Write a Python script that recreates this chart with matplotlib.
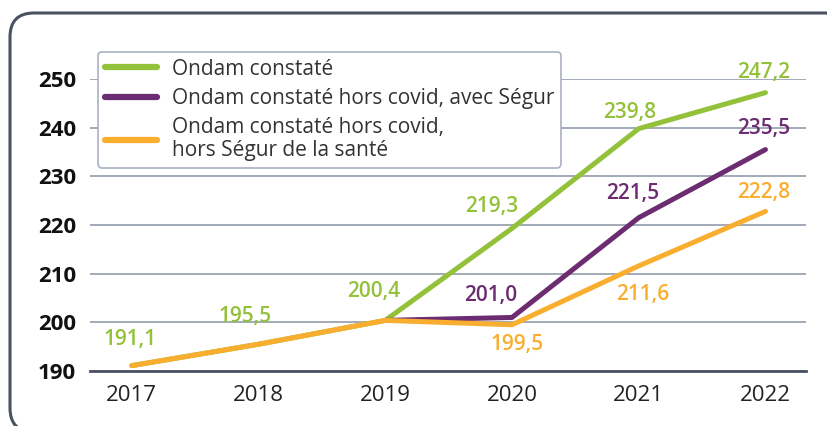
import matplotlib
matplotlib.use("Agg")
import matplotlib.pyplot as plt
import matplotlib.transforms as mtransforms
from matplotlib.patches import FancyBboxPatch

plt.rcParams['font.family'] = ['Open Sans', 'DejaVu Sans']

# data
years = [2017, 2018, 2019, 2020, 2021, 2022]
ondam = [191.1, 195.5, 200.4, 219.3, 239.8, 247.2]
years_segur = [2019, 2020, 2021, 2022]
ondam_hors_covid = [200.4, 201.0, 221.5, 235.5]
ondam_hors_segur = [191.1, 195.5, 200.4, 199.5, 211.6, 222.8]
yticks = [190, 200, 210, 220, 230, 240, 250]
labels = ["Ondam constaté",
          "Ondam constaté hors covid, avec Ségur",
          "Ondam constaté hors covid,\nhors Ségur de la santé"]

green = '#93c13a'
purple = '#6c2c72'
orange = '#f9ae2f'

fig = plt.figure(figsize=(8.28, 4.26), dpi=100)
ax = fig.add_axes([90/828, 1-371/426, (806-90)/828, (371-79)/426])

lw = 3.6
ax.plot(years, ondam, color=green, lw=lw, solid_capstyle='round', solid_joinstyle='round', label=labels[0], zorder=3)
ax.plot(years_segur, ondam_hors_covid, color=purple, lw=lw, solid_capstyle='round', solid_joinstyle='round', label=labels[1], zorder=4)
ax.plot(years, ondam_hors_segur, color=orange, lw=lw, solid_capstyle='round', solid_joinstyle='round', label=labels[2], zorder=5)

def fmt(v):
    return ("%.1f" % v).replace('.', ',')

# value labels, offsets in pixels (baseline)
fs = 15
def put(x, v, off, c):
    ax.annotate(fmt(v), (x, v), xytext=off, textcoords='offset pixels',
                ha='center', va='baseline', color=c, fontsize=fs, fontweight='semibold', zorder=6)

green_off = [(-2, 21), (-13, 22), (-12, 23), (-20, 16), (-9, 11), (-2, 15)]
for x, v, off in zip(years, ondam, green_off):
    put(x, v, off, green)
purple_off = [(-21, 16), (-6, 19), (-2, 16)]
for x, v, off in zip(years_segur[1:], ondam_hors_covid[1:], purple_off):
    put(x, v, off, purple)
orange_off = [(5, -25), (4, -34), (-2, 13)]
for x, v, off in zip(years[3:], ondam_hors_segur[3:], orange_off):
    put(x, v, off, orange)

ax.set_xlim(2016.67, 2022.32)
ax.set_ylim(190, 250)
ax.set_yticks(yticks)
ax.set_xticks(years)
ax.set_xticklabels([str(y) for y in years], fontsize=16, color='#222222')
ax.set_yticklabels([str(y) for y in yticks], fontsize=16, fontweight='bold', color='#111111')
ax.tick_params(axis='x', length=0, pad=10)
ax.tick_params(axis='y', length=0, pad=10)
ax.grid(axis='y', color='#a3aab8', lw=1.4, zorder=1)
for s in ['top', 'right', 'left']:
    ax.spines[s].set_visible(False)
ax.spines['bottom'].set_color('#4b5363')
ax.spines['bottom'].set_linewidth(2)
ax.spines['bottom'].set_zorder(2)

leg = ax.legend(loc='upper left', bbox_to_anchor=(98/828, 1-52/426), bbox_transform=fig.transFigure,
                borderaxespad=0, fontsize=15, handlelength=2.5, handletextpad=0.75,
                labelspacing=0.4, borderpad=0.32, fancybox=True, framealpha=1,
                edgecolor='#a9b0bf')
leg.get_frame().set_linewidth(1.2)
for t in leg.get_texts():
    t.set_color('#333333')
    t.set_linespacing(1.1)
for h in leg.get_lines():
    h.set_linewidth(4.5)
    h.set_solid_capstyle('round')
leg.set_zorder(7)

frame = FancyBboxPatch((10, -6), 840, 419, boxstyle='round,pad=0,rounding_size=24',
                       transform=mtransforms.IdentityTransform(), fill=False,
                       edgecolor='#4a5262', lw=2.2)
fig.patches.append(frame)

fig.savefig('out.png', dpi=100)
